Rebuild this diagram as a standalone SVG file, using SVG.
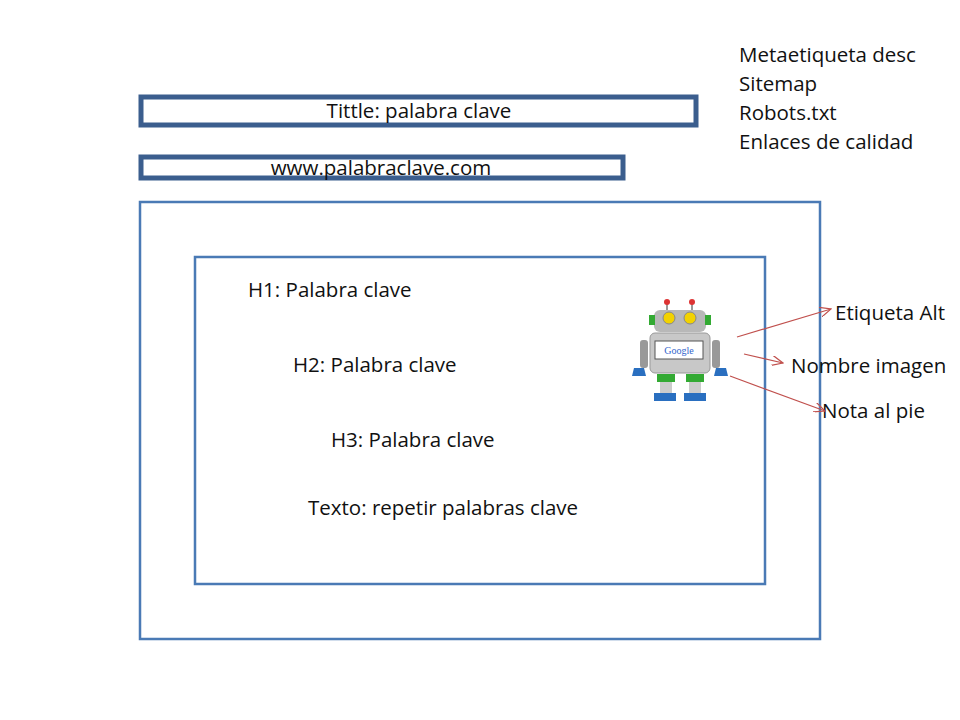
<svg xmlns="http://www.w3.org/2000/svg" width="960" height="720" viewBox="0 0 960 720">
<style>
text{font-family:"Open Sans","Liberation Sans",sans-serif;font-size:20.5px;fill:#111}
.bar{fill:#fff;stroke:#3b5e8e;stroke-width:5}
.box{fill:none;stroke:#4a7ab5;stroke-width:2.5}
.c{stroke:#c0504d;stroke-width:1.2;fill:none;marker-end:url(#a)}
</style>
<defs><marker id="a" markerWidth="12" markerHeight="10" refX="11" refY="5" orient="auto" markerUnits="userSpaceOnUse"><path d="M0,0 L11,5 L0,10" fill="none" stroke="#c0504d" stroke-width="1.2"/></marker></defs>
<rect width="960" height="720" fill="#fff"/>
<g id="meta"><text x="739" y="62">Metaetiqueta desc</text><text x="739" y="91">Sitemap</text><text x="739" y="120">Robots.txt</text><text x="739" y="149">Enlaces de calidad</text></g>
<g id="title"><rect class="bar" x="141" y="97" width="555" height="28"/><text x="419" y="118" text-anchor="middle">Tittle: palabra clave</text></g>
<g id="url"><rect class="bar" x="141" y="157" width="482" height="21"/><text x="381" y="175" text-anchor="middle">www.palabraclave.com</text></g>
<g id="outer"><rect class="box" x="140" y="202" width="680" height="437"/></g>
<g id="inner"><rect class="box" x="195" y="257" width="570" height="327"/>
<text x="248" y="297">H1: Palabra clave</text><text x="293" y="372">H2: Palabra clave</text><text x="331" y="447">H3: Palabra clave</text><text x="308" y="515">Texto: repetir palabras clave</text></g>
<g id="robot">
<line x1="667" y1="302" x2="667" y2="312" stroke="#999" stroke-width="2"/><line x1="692" y1="302" x2="692" y2="312" stroke="#999" stroke-width="2"/>
<circle cx="667" cy="302" r="3" fill="#d33"/><circle cx="692" cy="302" r="3" fill="#d33"/>
<rect x="654" y="310" width="52" height="22" rx="6" fill="#b8b8b8"/>
<rect x="649" y="315" width="6" height="10" fill="#3a3"/><rect x="705" y="315" width="6" height="10" fill="#3a3"/>
<circle cx="669" cy="318" r="6" fill="#f2d200" stroke="#888"/><circle cx="690" cy="318" r="6" fill="#f2d200" stroke="#888"/>
<rect x="650" y="333" width="60" height="40" rx="5" fill="#c8c8c8" stroke="#999"/>
<rect x="655" y="341" width="48" height="18" fill="#fff" stroke="#555"/>
<text x="679" y="354" text-anchor="middle" style="font-size:10px;font-family:'Liberation Serif',serif;fill:#3366cc">Google</text>
<rect x="640" y="340" width="8" height="28" rx="3" fill="#999"/><rect x="712" y="340" width="8" height="28" rx="3" fill="#999"/>
<path d="M634 368h10l2 8h-14z" fill="#2a6fc0"/><path d="M716 368h10l2 8h-14z" fill="#2a6fc0"/>
<rect x="657" y="374" width="18" height="8" fill="#3a3"/><rect x="686" y="374" width="18" height="8" fill="#3a3"/>
<rect x="660" y="382" width="12" height="12" fill="#ccc"/><rect x="689" y="382" width="12" height="12" fill="#ccc"/>
<rect x="654" y="393" width="22" height="8" fill="#2a6fc0"/><rect x="684" y="393" width="22" height="8" fill="#2a6fc0"/>
</g>
<g id="labels"><text x="835" y="320">Etiqueta Alt</text><text x="791" y="373">Nombre imagen</text><text x="822" y="418">Nota al pie</text></g>
<g id="connectors"><path class="c" d="M737 337L831 309"/><path class="c" d="M744 354L783 363"/><path class="c" d="M730 376L825 411"/></g>
</svg>
